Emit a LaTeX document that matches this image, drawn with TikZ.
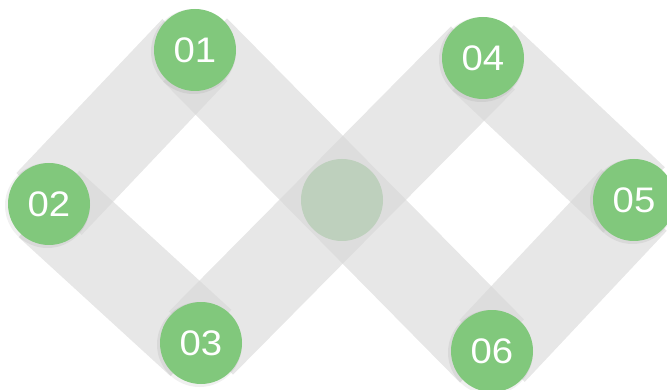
\documentclass[tikz,border=0pt]{standalone}
\usepackage{fontspec}
\setmainfont{Liberation Sans}
\newfontfamily\digitfont[FakeStretch=1.08]{Liberation Sans}
\usetikzlibrary{backgrounds}
\definecolor{dotgreen}{HTML}{81C87C}
\definecolor{fadegreen}{HTML}{BED0BD}
\definecolor{bandgray}{RGB}{214,214,214}
\begin{document}
\begin{tikzpicture}[x=1pt,y=-1pt,
  dot/.style={circle,fill=dotgreen,minimum size=82pt,inner sep=0pt,text=white,
    font=\digitfont\fontsize{35.5}{35.5}\selectfont},
  fadedot/.style={circle,fill=fadegreen,minimum size=82pt,inner sep=0pt},
  band/.style={draw=bandgray,line width=90pt,draw opacity=0.585,line cap=butt},
  dotshade/.style={fill=black,fill opacity=0.06}]
\useasboundingbox (0,0) rectangle (667,390);
\node[dot] (n1) at (195,50) {01};
\node[dot] (n2) at (49,204) {02};
\node[dot] (n3) at (201,343) {03};
\node[dot] (n4) at (483,58) {04};
\node[dot] (n5) at (634,200) {05};
\node[dot] (n6) at (492,351) {06};
\node[fadedot] (c) at (342,200) {};
\begin{pgfonlayer}{background}
  \draw[band] (n1.center) -- (n2.center);
  \draw[band] (n2.center) -- (n3.center);
  \draw[band] (n3.center) -- (n4.center);
  \draw[band] (n4.center) -- (n5.center);
  \draw[band] (n5.center) -- (n6.center);
  \draw[band] (n6.center) -- (n1.center);
  \foreach \n in {n1,n2,n3,n4,n5,n6}
    \fill[dotshade] ([shift={(-1.5,1.5)}]\n.center) circle (42.5);
\end{pgfonlayer}
\end{tikzpicture}
\end{document}
